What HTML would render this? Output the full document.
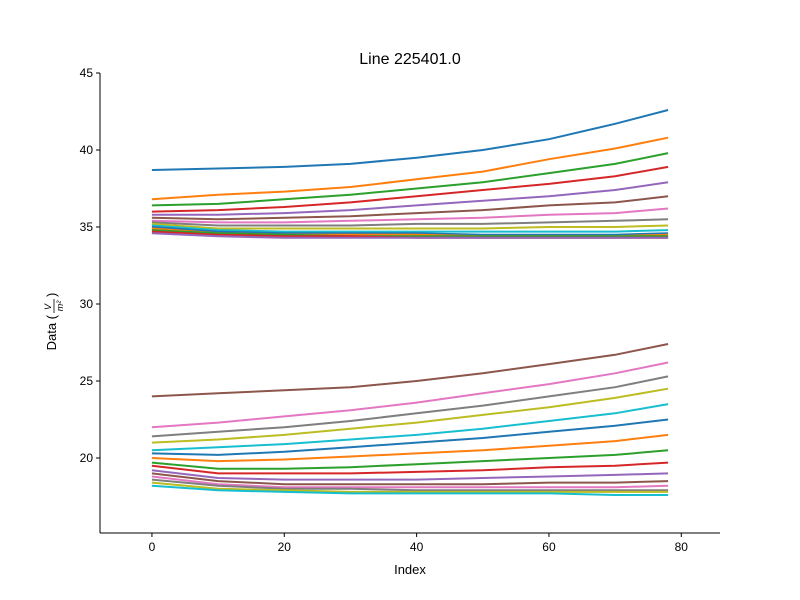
<!DOCTYPE html>
<html><head><meta charset="utf-8"><style>
body{margin:0;background:#fff;}
svg{display:block;font-family:"Liberation Sans","DejaVu Sans",sans-serif;}
</style></head><body>
<svg id="chart" width="800" height="600" viewBox="0 0 800 600">
<rect width="800" height="600" fill="#fff"/>
<text x="410" y="64" font-size="16" text-anchor="middle">Line 225401.0</text>
<g id="lines"></g>
<g id="axes"></g>
<text x="410" y="574" font-size="13" text-anchor="middle">Index</text>
<g transform="translate(56,303) rotate(-90)">
<text x="-12" y="0" font-size="13" text-anchor="end">Data (</text>
<text x="-4" y="-5" font-size="9" text-anchor="middle" font-style="italic">V</text>
<line x1="-10" y1="-2" x2="4" y2="-2" stroke="#000" stroke-width="0.8"/>
<text x="-3" y="7" font-size="9" text-anchor="middle" font-style="italic">m²</text>
<text x="6" y="0" font-size="13">)</text>
</g>
</svg>
<script>
const sampleIdx=[0,10,20,30,40,50,60,70,78];
const xTicks=[0,20,40,60,80];
const yTicks=[20,25,30,35,40,45];
const series=[
[38.7,38.8,38.9,39.1,39.5,40.0,40.7,41.7,42.6],
[36.8,37.1,37.3,37.6,38.1,38.6,39.4,40.1,40.8],
[36.4,36.5,36.8,37.1,37.5,37.9,38.5,39.1,39.8],
[36.0,36.1,36.3,36.6,37.0,37.4,37.8,38.3,38.9],
[35.8,35.8,35.9,36.1,36.4,36.7,37.0,37.4,37.9],
[35.6,35.5,35.6,35.7,35.9,36.1,36.4,36.6,37.0],
[35.4,35.3,35.3,35.4,35.5,35.6,35.8,35.9,36.2],
[35.3,35.1,35.1,35.1,35.2,35.2,35.3,35.4,35.5],
[35.2,34.9,34.9,34.9,34.9,34.9,35.0,35.0,35.1],
[35.1,34.8,34.7,34.7,34.7,34.7,34.7,34.7,34.8],
[35.0,34.7,34.6,34.6,34.6,34.5,34.5,34.5,34.6],
[34.9,34.6,34.5,34.5,34.5,34.4,34.4,34.4,34.5],
[34.8,34.6,34.5,34.4,34.4,34.4,34.4,34.4,34.4],
[34.7,34.5,34.4,34.4,34.3,34.3,34.3,34.3,34.3],
[34.6,34.4,34.3,34.3,34.3,34.3,34.3,34.3,34.3],
[24.0,24.2,24.4,24.6,25.0,25.5,26.1,26.7,27.4],
[22.0,22.3,22.7,23.1,23.6,24.2,24.8,25.5,26.2],
[21.4,21.7,22.0,22.4,22.9,23.4,24.0,24.6,25.3],
[21.0,21.2,21.5,21.9,22.3,22.8,23.3,23.9,24.5],
[20.5,20.7,20.9,21.2,21.5,21.9,22.4,22.9,23.5],
[20.3,20.2,20.4,20.7,21.0,21.3,21.7,22.1,22.5],
[20.0,19.8,19.9,20.1,20.3,20.5,20.8,21.1,21.5],
[19.7,19.3,19.3,19.4,19.6,19.8,20.0,20.2,20.5],
[19.5,19.0,19.0,19.0,19.1,19.2,19.4,19.5,19.7],
[19.2,18.7,18.6,18.6,18.6,18.7,18.8,18.9,19.0],
[19.0,18.5,18.3,18.3,18.3,18.3,18.4,18.4,18.5],
[18.8,18.3,18.1,18.1,18.1,18.1,18.1,18.1,18.2],
[18.6,18.2,18.0,18.0,17.9,17.9,17.9,17.9,17.9],
[18.4,18.0,17.9,17.8,17.8,17.8,17.8,17.8,17.8],
[18.2,17.9,17.8,17.7,17.7,17.7,17.7,17.6,17.6]
];
const colors=["#1f77b4","#ff7f0e","#2ca02c","#d62728","#9467bd","#8c564b","#e377c2","#7f7f7f","#bcbd22","#17becf"];
const NS="http://www.w3.org/2000/svg";
const X0=100,X1=720,Y0=533,Y1=73;
const xMin=-7.85,xMax=85.85,yMin=15.13,yMax=45;
const sx=v=>X0+(v-xMin)/(xMax-xMin)*(X1-X0);
const sy=v=>Y0-(v-yMin)/(yMax-yMin)*(Y0-Y1);
const gl=document.getElementById('lines');
series.forEach((s,i)=>{
  const p=document.createElementNS(NS,'polyline');
  p.setAttribute('points',s.map((v,j)=>sx(sampleIdx[j]).toFixed(1)+','+sy(v).toFixed(1)).join(' '));
  p.setAttribute('fill','none');p.setAttribute('stroke',colors[i%10]);p.setAttribute('stroke-width','2');
  
  
  gl.appendChild(p);
});
const ga=document.getElementById('axes');
function el(t,a){const e=document.createElementNS(NS,t);for(const k in a)e.setAttribute(k,a[k]);ga.appendChild(e);return e;}
const ls=el('line',{x1:X0,y1:Y1,x2:X0,y2:Y0,stroke:'#000','stroke-width':1});


const bs=el('line',{x1:X0,y1:Y0,x2:X1,y2:Y0,stroke:'#000','stroke-width':1});


xTicks.forEach(t=>{
  const x=sx(t);
  el('line',{x1:x,y1:Y0,x2:x,y2:Y0+4,stroke:'#000'});
  const tx=el('text',{x:x,y:Y0+18,'font-size':12,'text-anchor':'middle'});tx.textContent=t;
  
  
});
yTicks.forEach(t=>{
  const y=sy(t);
  el('line',{x1:X0-4,y1:y,x2:X0,y2:y,stroke:'#000'});
  const tx=el('text',{x:X0-7,y:y+4,'font-size':12,'text-anchor':'end'});tx.textContent=t;
  
  
});
</script>
</body></html>
